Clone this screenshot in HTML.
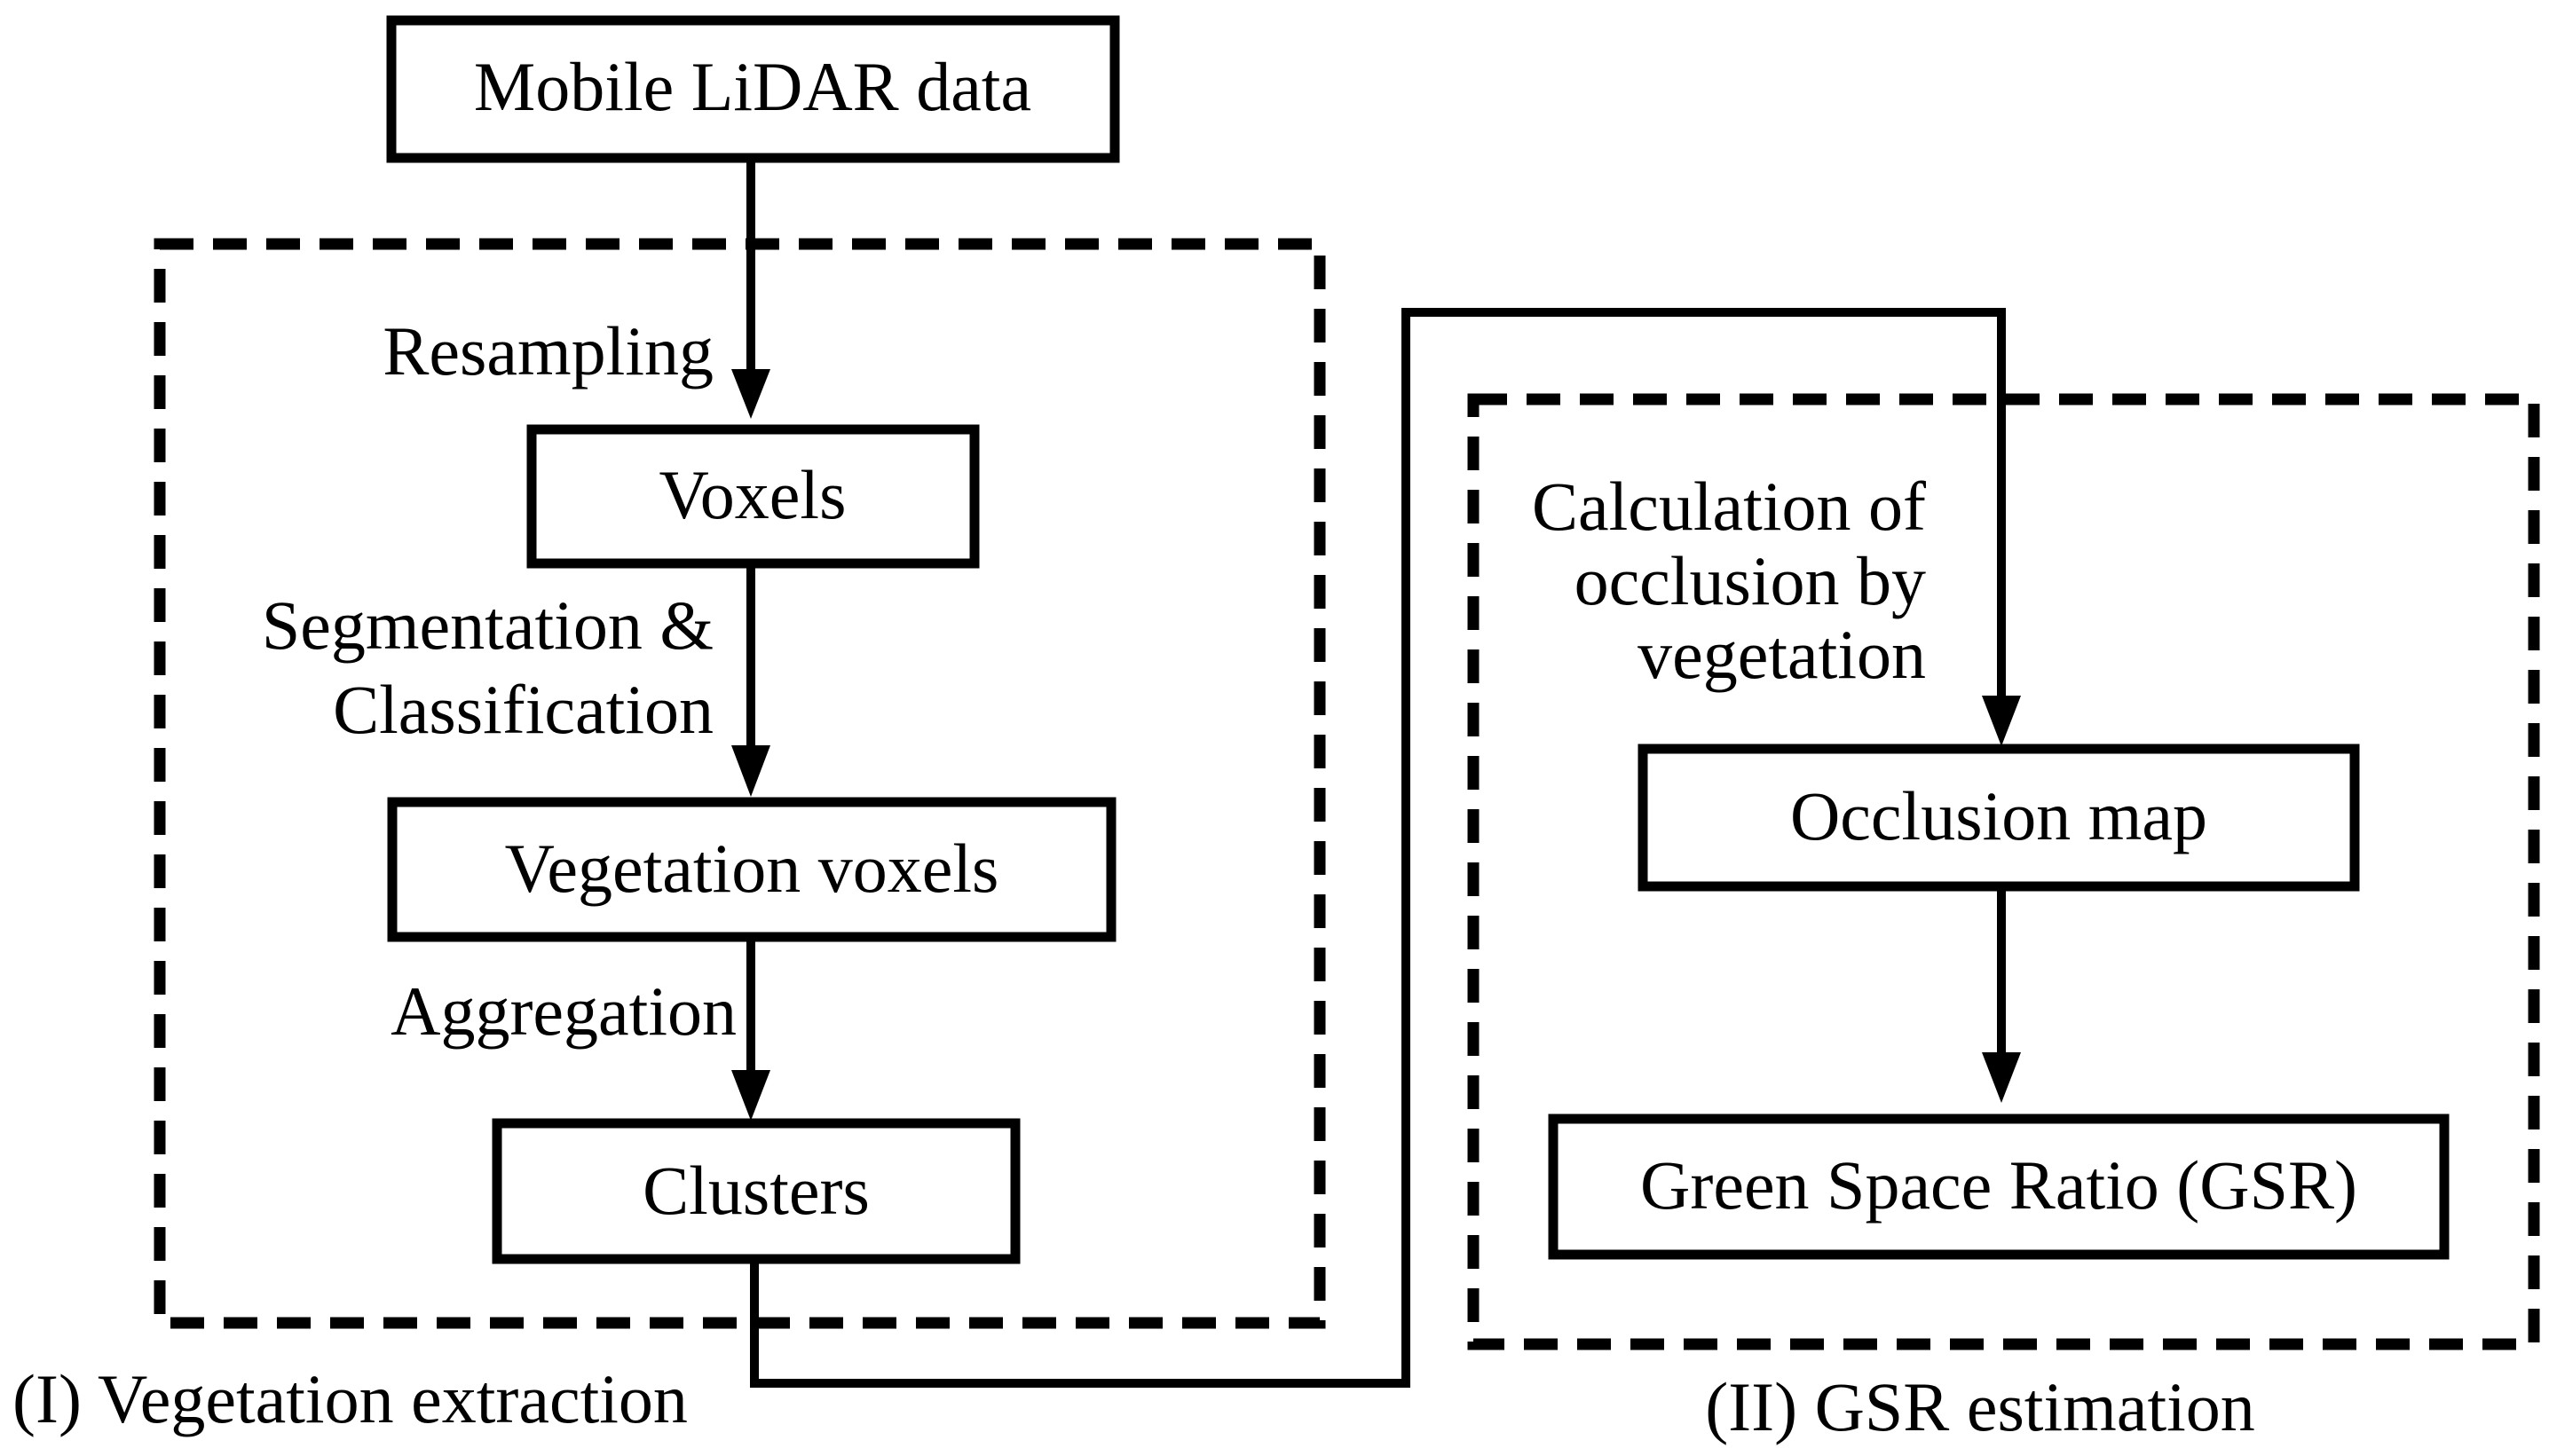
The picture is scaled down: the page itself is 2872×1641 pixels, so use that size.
<!DOCTYPE html>
<html><head><meta charset="utf-8"><style>
html,body{margin:0;padding:0;background:#fff;}
svg{display:block;}
text{font-family:"Liberation Serif",serif;font-size:78px;fill:#000;}
</style></head><body>
<svg width="2872" height="1641" viewBox="0 0 2872 1641" xmlns="http://www.w3.org/2000/svg">
<defs>
<marker id="ah" markerUnits="userSpaceOnUse" markerWidth="44" markerHeight="60" refX="22" refY="58" orient="auto-start-reverse" viewBox="0 0 44 60">
</marker>
</defs>
<g fill="none" stroke="#000">
<rect x="180" y="275" width="1307" height="1216" stroke-width="13" stroke-dasharray="38,22"/>
<rect x="1660" y="450" width="1195" height="1065" stroke-width="13" stroke-dasharray="38,22"/>
<g stroke-width="11">
<rect x="441" y="23" width="815" height="155"/>
<rect x="599" y="484" width="499" height="151"/>
<rect x="442" y="904" width="810" height="152"/>
<rect x="560" y="1266" width="584" height="153"/>
<rect x="1851" y="844" width="802" height="155"/>
<rect x="1750" y="1261" width="1004" height="153"/>
</g>
<g stroke-width="10">
<line x1="846" y1="178" x2="846" y2="420"/>
<line x1="846" y1="635" x2="846" y2="846"/>
<line x1="846" y1="1056" x2="846" y2="1212"/>
<line x1="2255" y1="999" x2="2255" y2="1190"/>
<polyline points="850,1419 850,1559 1584,1559 1584,352 2255,352 2255,788"/>
</g>
</g>
<g fill="#000">
<polygon points="824,416 868,416 846,472"/>
<polygon points="824,840 868,840 846,898"/>
<polygon points="824,1206 868,1206 846,1263"/>
<polygon points="2233,784 2277,784 2255,841"/>
<polygon points="2233,1186 2277,1186 2255,1243"/>
</g>
<text x="848" y="124" text-anchor="middle">Mobile LiDAR data</text>
<text x="848" y="584" text-anchor="middle">Voxels</text>
<text x="847" y="1005" text-anchor="middle">Vegetation voxels</text>
<text x="852" y="1368" text-anchor="middle">Clusters</text>
<text x="2252" y="946" text-anchor="middle">Occlusion map</text>
<text x="2252" y="1362" text-anchor="middle">Green Space Ratio (GSR)</text>
<text x="804" y="422" text-anchor="end">Resampling</text>
<text x="804" y="731" text-anchor="end">Segmentation &amp;</text>
<text x="804" y="826" text-anchor="end">Classification</text>
<text x="830" y="1166" text-anchor="end">Aggregation</text>
<text x="2170" y="597" text-anchor="end">Calculation of</text>
<text x="2170" y="681" text-anchor="end">occlusion by</text>
<text x="2170" y="764" text-anchor="end">vegetation</text>
<text x="14" y="1603">(I) Vegetation extraction</text>
<text x="2231" y="1612" text-anchor="middle">(II) GSR estimation</text>
</svg>
</body></html>
